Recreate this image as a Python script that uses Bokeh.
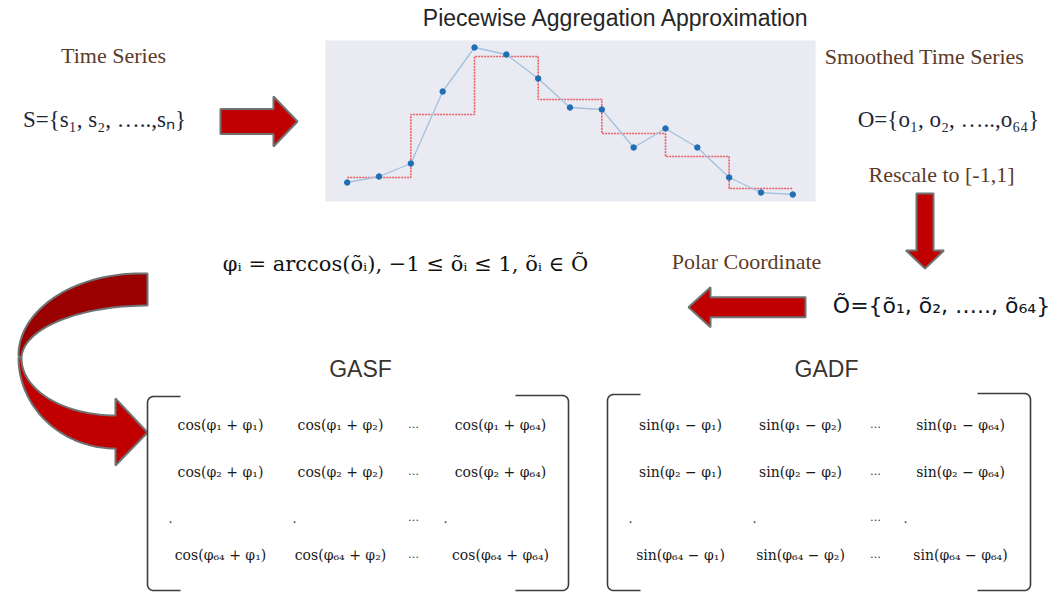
import numpy as np
from bokeh.plotting import figure
from bokeh.models import Range1d
from bokeh.core.properties import value
from bokeh.embed import file_html
from bokeh.resources import INLINE

# ---------------- data ----------------
series_index = list(range(15))
series_values = [1.4, 2.0, 3.3, 10.5, 14.9, 14.2, 11.8, 8.9, 8.7, 4.9, 6.8, 4.9, 1.9, 0.4, 0.2]
paa_edges = [0, 2, 4, 6, 8, 10, 12, 14]
paa_values = [1.9, 8.2, 14.0, 9.7, 6.3, 4.0, 0.8]

title = "Piecewise Aggregation Approximation"
label_ts = "Time Series"
label_sts = "Smoothed Time Series"
label_rescale = "Rescale to [-1,1]"
label_polar = "Polar Coordinate"
formula_s = "S={s\u2081, s\u2082, \u2026..,s\u2099}"
formula_o = "O={o\u2081, o\u2082, \u2026..,o\u2086\u2084}"
formula_phi = "\u03c6\u1d62 = arccos(\u00f5\u1d62), \u22121 \u2264 \u00f5\u1d62 \u2264 1, \u00f5\u1d62 \u2208 \u00d5"
formula_otilde = "\u00d5={\u00f5\u2081, \u00f5\u2082, \u2026.., \u00f5\u2086\u2084}"
matrix_titles = ["GASF", "GADF"]
phi_rows = ["\u03c6\u2081", "\u03c6\u2082", "\u03c6\u2086\u2084"]
phi_cols = ["\u03c6\u2081", "\u03c6\u2082", "\u03c6\u2086\u2084"]

# ---------------- figure in page pixel coordinates ----------------
W, H = 1054, 592
p = figure(width=W, height=H, x_range=Range1d(0, W), y_range=Range1d(H, 0),
           output_backend="svg", toolbar_location=None, min_border=0,
           x_axis_location=None, y_axis_location=None)
p.grid.visible = False
p.outline_line_color = None
p.background_fill_color = "white"
p.border_fill_color = "white"

# inner PAA plot placed through its own ranges
px0, dpx = 346.7, 31.83          # pixel of index 0, pixels per index
py0, dpy = 196.0, 10.0           # pixel of value 0, pixels per unit
p.extra_x_ranges = {"paa_x": Range1d((0 - px0) / dpx, (W - px0) / dpx)}
p.extra_y_ranges = {"paa_y": Range1d((py0 - H) / dpy, (py0 - 0) / dpy)}

p.quad(left=325, right=815, top=40, bottom=201, fill_color="#eaeaf2", line_color=None)
p.step(x=paa_edges, y=paa_values + [paa_values[-1]], mode="after",
       x_range_name="paa_x", y_range_name="paa_y",
       line_color="#e8474d", line_alpha=0.85, line_width=1.6, line_dash="2 1")
p.line(series_index, series_values, x_range_name="paa_x", y_range_name="paa_y",
       line_color="#a3c1dc", line_width=1.3)
p.scatter(series_index, series_values, x_range_name="paa_x", y_range_name="paa_y",
          size=5.5, fill_color="#1f6fb2", line_color="#1f6fb2")

# ---------------- helpers ----------------
def txt(x, y, s, font, size, color, align="center", style="normal"):
    p.text(x=[x], y=[y], text=[s], text_font=value(font), text_font_size=f"{size}px",
           text_color=color, text_align=align, text_baseline="middle",
           text_font_style=style)

def arrow_poly(x0, y0, x1, y1, shw, hhw, hlen):
    d = np.array([x1 - x0, y1 - y0], float)
    L = np.hypot(*d)
    u = d / L
    n = np.array([-u[1], u[0]])
    t = np.array([x0, y0], float)
    tip = np.array([x1, y1], float)
    b = tip - u * hlen
    pts = [t + n * shw, b + n * shw, b + n * hhw, tip, b - n * hhw, b - n * shw, t - n * shw]
    return [q[0] for q in pts], [q[1] for q in pts]

RED = "#c00000"
DARKRED = "#9a0000"
EDGE = "#6f7272"
BROWN = "#5c3a28"

# straight arrows
straight = [
    (220, 121, 297, 121, 12.5, 25, 24),
    (924.5, 193, 924.5, 268, 8.5, 19, 18),
    (805, 306.7, 688, 306.7, 10, 20, 22),
]
xs, ys = [], []
for a in straight:
    ax, ay = arrow_poly(*a)
    xs.append(ax); ys.append(ay)
p.patches(xs, ys, fill_color=RED, line_color=EDGE, line_width=2)

# curved arrow (twisted ribbon)
t = np.linspace(0, np.pi / 2, 40)
top_outer_x = 140 - 122 * np.sin(t); top_outer_y = 355 - 82 * np.cos(t)
top_inner_x = 147 - 126 * np.sin(t); top_inner_y = 358 - 53 * np.cos(t)
top_x = [147] + list(top_outer_x) + list(top_inner_x[::-1])
top_y = [273] + list(top_outer_y) + list(top_inner_y[::-1])
p.patch(top_x, top_y, fill_color=DARKRED, line_color=EDGE, line_width=2)

bot_outer_x = 115 - 97 * np.cos(t); bot_outer_y = 357 + 91 * np.sin(t)
bot_upper_x = 115 - 94 * np.cos(t); bot_upper_y = 358 + 57 * np.sin(t)
bot_x = list(bot_outer_x) + [115, 147, 115] + list(bot_upper_x[::-1])
bot_y = list(bot_outer_y) + [465, 432, 398] + list(bot_upper_y[::-1])
p.patch(bot_x, bot_y, fill_color=RED, line_color=EDGE, line_width=2)

# brackets
def bracket(xv, xend, ytop, ybot, r=6):
    side = 1 if xend > xv else -1
    a = np.linspace(0, np.pi / 2, 8)
    top_x = [xend] + list(xv + side * r * (1 - np.sin(a)))
    top_y = [ytop] + list(ytop + r * (1 - np.cos(a)))
    bx = list(xv + side * r * (1 - np.cos(a))) + [xend]
    by = list(ybot - r * (1 - np.sin(a))) + [ybot]
    return top_x + bx, top_y + by

bxs, bys = [], []
for (xl, xr, ytop) in [(147, 568, 395), (607, 1030, 393)]:
    bx, by = bracket(xl, xl + 33, ytop + 1, 590)
    bxs.append(bx); bys.append(by)
    bx, by = bracket(xr, xr - 53, ytop, 590)
    bxs.append(bx); bys.append(by)
p.multi_line(bxs, bys, line_color="#3c3c3c", line_width=1.6)

# ---------------- texts (y = vertical centre) ----------------
txt(616, 17, title, "Liberation Sans", 23, "#262626")
txt(113, 55, label_ts, "Liberation Serif", 22, BROWN)
txt(924, 56, label_sts, "Liberation Serif", 22, BROWN)
txt(941, 174, label_rescale, "Liberation Serif", 22, BROWN)
txt(746, 261, label_polar, "Liberation Serif", 22, BROWN)

txt(104, 119, formula_s, "Liberation Serif", 23, "#1b2638")
txt(948, 119, formula_o, "Liberation Serif", 23, "#1b2638")
txt(405, 263, formula_phi, "DejaVu Serif", 21, "#111111")
txt(941, 305, formula_otilde, "DejaVu Sans", 22, "#0d1626")

txt(360, 368, matrix_titles[0], "Liberation Sans", 23, "#3a3330")
txt(826, 368, matrix_titles[1], "Liberation Sans", 23, "#3a3330")

col_x = {"GASF": [220, 340, 413, 500], "GADF": [680, 800, 875, 960]}
row_y = [424, 471, 554]
dot_y = 517
mfont = "DejaVu Serif"
for name, fn, op in [("GASF", "cos", "+"), ("GADF", "sin", "\u2212")]:
    cx = col_x[name]
    for ri, rlab in enumerate(phi_rows):
        for ci, j in zip([0, 1, 3], range(3)):
            txt(cx[ci], row_y[ri], f"{fn}({rlab} {op} {phi_cols[j]})", mfont, 14, "#1a1a1a")
        txt(cx[2], row_y[ri], "\u2026", mfont, 11, "#333333")
    txt(cx[0] - 50, dot_y, ".", mfont, 13, "#333333")
    txt(cx[1] - 46, dot_y, ".", mfont, 13, "#333333")
    txt(cx[2], dot_y, "\u2026", mfont, 11, "#333333")
    txt(cx[3] - 55, dot_y, ".", mfont, 13, "#333333")

open("out.html", "w").write(file_html(p, INLINE))
